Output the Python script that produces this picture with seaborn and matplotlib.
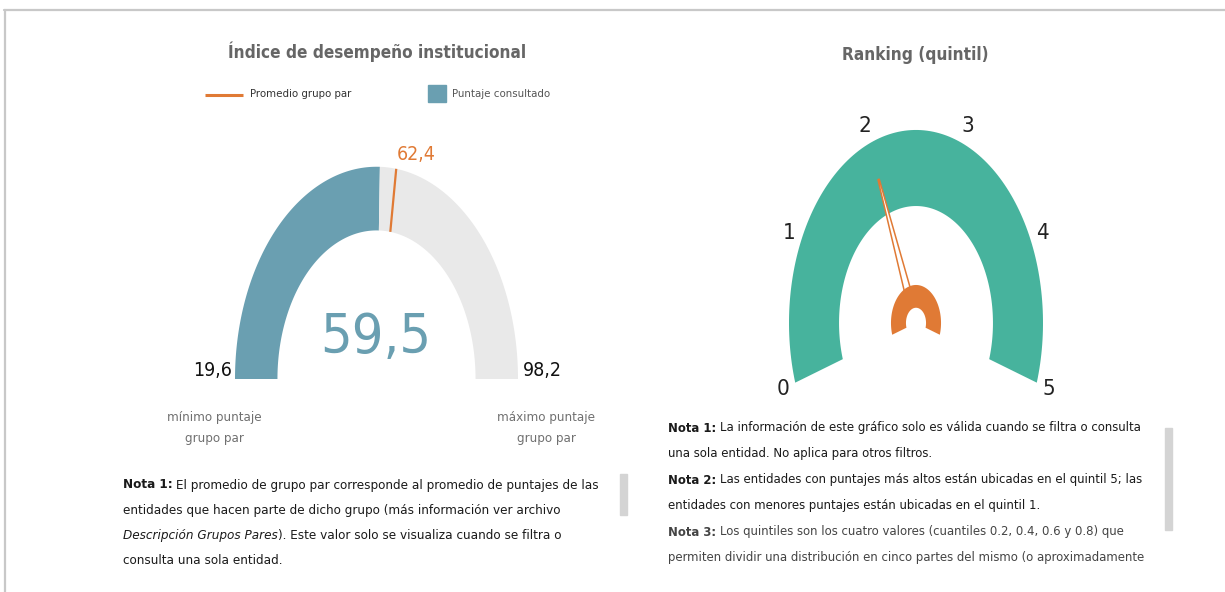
import numpy as np
import matplotlib.pyplot as plt
import seaborn as sns
from matplotlib.patches import Polygon, Rectangle

# values shown in the two gauges
puntaje_consultado = 59.5
promedio_grupo_par = 62.4
minimo_grupo_par = 19.6
maximo_grupo_par = 98.2
quintil_ticks = [0, 1, 2, 3, 4, 5]
quintil_entidad = 2

titulo_izq = 'Índice de desempeño institucional'
titulo_der = 'Ranking (quintil)'
leyenda = ['Promedio grupo par', 'Puntaje consultado']

notas_izq = [
    [('Nota 1:', 'b'), (' El promedio de grupo par corresponde al promedio de puntajes de las', 'n')],
    [('entidades que hacen parte de dicho grupo (más información ver archivo', 'n')],
    [('Descripción Grupos Pares', 'i'), ('). Este valor solo se visualiza cuando se filtra o', 'n')],
    [('consulta una sola entidad.', 'n')],
]
notas_der = [
    [('Nota 1:', 'b'), (' La información de este gráfico solo es válida cuando se filtra o consulta', 'n')],
    [('una sola entidad. No aplica para otros filtros.', 'n')],
    [('Nota 2:', 'b'), (' Las entidades con puntajes más altos están ubicadas en el quintil 5; las', 'n')],
    [('entidades con menores puntajes están ubicadas en el quintil 1.', 'n')],
    [('Nota 3:', 'b'), (' Los quintiles son los cuatro valores (cuantiles 0.2, 0.4, 0.6 y 0.8) que', 'n')],
    [('permiten dividir una distribución en cinco partes del mismo (o aproximadamente', 'n')],
]

TEAL = '#6A9FB1'
ARC_GREY = '#E9E9E9'
ORANGE = '#E07A35'
GREEN = '#47B39D'
TITLE_GREY = '#666666'

sns.set_theme(style='white')
plt.rcParams['font.family'] = ['DejaVu Sans']
plt.rcParams['font.stretch'] = 'condensed'

W, H = 1225, 592
fig = plt.figure(figsize=(W / 100, H / 100), dpi=100)


def band(r0, r1, t0, t1, stretch, n=150):
    t = np.linspace(t0, t1, n)
    outer = np.column_stack([r1 * np.cos(t), r1 * np.sin(t) * stretch])
    inner = np.column_stack([r0 * np.cos(t[::-1]), r0 * np.sin(t[::-1]) * stretch])
    return np.vstack([outer, inner])


def px_axes(cx, cy, unit, xlim, ylim):
    # one data unit = `unit` pixels, origin at pixel (cx, cy)
    x0, x1 = cx + xlim[0] * unit, cx + xlim[1] * unit
    ytop, ybot = cy - ylim[1] * unit, cy - ylim[0] * unit
    ax = fig.add_axes([x0 / W, 1 - ybot / H, (x1 - x0) / W, (ybot - ytop) / H])
    ax.set_xlim(xlim)
    ax.set_ylim(ylim)
    ax.axis('off')
    return ax


# ---- left gauge: indice de desempeno
sl = 1.5
axl = px_axes(376.5, 379, 141.5, (-1.5, 1.5), (-0.3, 1.7))


def ang(v):
    return np.pi * (1 - (v - minimo_grupo_par) / (maximo_grupo_par - minimo_grupo_par))


axl.add_patch(Polygon(band(0.7, 1.0, ang(minimo_grupo_par), ang(puntaje_consultado), sl),
                      closed=True, facecolor=TEAL, edgecolor='none'))
axl.add_patch(Polygon(band(0.7, 1.0, ang(puntaje_consultado), ang(maximo_grupo_par), sl),
                      closed=True, facecolor=ARC_GREY, edgecolor='none'))
a = ang(promedio_grupo_par)
axl.plot([0.7 * np.cos(a), 1.0 * np.cos(a)], [0.7 * np.sin(a) * sl, 1.0 * np.sin(a) * sl],
         color=ORANGE, lw=1.6, solid_capstyle='butt')

# ---- right gauge: quintil
sr = 1.52
axr = px_axes(916, 323, 127, (-1.3, 1.3), (-0.6, 1.75))


def qang(v):
    return np.radians(198 - v * 216 / 5)


axr.add_patch(Polygon(band(0.606, 1.0, qang(quintil_ticks[0]), qang(quintil_ticks[-1]), sr),
                      closed=True, facecolor=GREEN, edgecolor='none'))
axr.add_patch(Polygon(band(0.079, 0.197, qang(quintil_ticks[0]), qang(quintil_ticks[-1]), sr),
                      closed=True, facecolor=ORANGE, edgecolor='none', zorder=3))
q = qang(quintil_entidad)
d = np.array([np.cos(q), np.sin(q)])
p = np.array([-np.sin(q), np.cos(q)])
needle = np.array([0.15 * d + 0.026 * p, 0.80 * d + 0.005 * p, 0.80 * d - 0.005 * p, 0.15 * d - 0.026 * p])
needle[:, 1] *= sr
axr.add_patch(Polygon(needle, closed=True, facecolor='white', edgecolor=ORANGE, lw=1.1, zorder=2))
for t in quintil_ticks:
    ta = qang(t)
    axr.text(1.1 * np.cos(ta), 1.1 * np.sin(ta) * sr, str(t), ha='center', va='center',
             fontsize=16, color='#222222')

# ---- overlay in pixel units for frame, titles, legend and notes
ov = fig.add_axes([0, 0, 1, 1])
ov.set_xlim(0, W)
ov.set_ylim(H, 0)
ov.axis('off')
ov.patch.set_alpha(0)
renderer = fig.canvas.get_renderer()


def text_w(s, size, **kw):
    t = ov.text(0, 0, s, fontsize=size, **kw)
    w = t.get_window_extent(renderer=renderer).width
    t.remove()
    return w


def fit(s, target, **kw):
    # font size that makes `s` about `target` pixels wide
    return 10 * target / text_w(s, 10, **kw)


def style_kw(style):
    return {'fontweight': 'bold' if style == 'b' else 'normal',
            'fontstyle': 'italic' if style == 'i' else 'normal'}


def rich_line(x, y, parts, size, color, draw=True):
    x0 = x
    gap = text_w('x x', size) - text_w('xx', size)
    for s, style in parts:
        if s.startswith(' '):
            x += gap
            s = s.lstrip()
        if draw:
            ov.text(x, y, s, ha='left', va='center', fontsize=size, color=color, **style_kw(style))
        x += text_w(s, size, **style_kw(style))
    return x - x0


ov.plot([4, W], [10, 10], color='#C8C8C8', lw=1.6)
ov.plot([5, 5], [10, H], color='#C8C8C8', lw=1.6)

ts = fit(titulo_izq, 296, fontweight='bold')
ov.text(377, 52, titulo_izq, ha='center', va='center', fontsize=ts, fontweight='bold', color=TITLE_GREY)
ov.text(915, 55, titulo_der, ha='center', va='center', fontsize=ts, fontweight='bold', color=TITLE_GREY)

ls = fit(leyenda[0], 102)
ov.plot([205, 243], [95, 95], color=ORANGE, lw=2.2, solid_capstyle='butt')
ov.text(250, 94, leyenda[0], ha='left', va='center', fontsize=ls, color='#333333')
ov.add_patch(Rectangle((428, 85), 18, 17, color=TEAL))
ov.text(452, 94, leyenda[1], ha='left', va='center', fontsize=ls, color='#555555')

ov.text(397, 155, f'{promedio_grupo_par:.1f}'.replace('.', ','), ha='left', va='center',
        fontsize=14, color=ORANGE)
ov.text(376, 338, f'{puntaje_consultado:.1f}'.replace('.', ','), ha='center', va='center',
        fontsize=40, fontweight='light', color=TEAL)
ov.text(232, 370, f'{minimo_grupo_par:.1f}'.replace('.', ','), ha='right', va='center',
        fontsize=14, color='#111111')
ov.text(523, 370, f'{maximo_grupo_par:.1f}'.replace('.', ','), ha='left', va='center',
        fontsize=14, color='#111111')
ms = fit('mínimo puntaje', 94)
ov.text(214, 428, 'mínimo puntaje\ngrupo par', ha='center', va='center', fontsize=ms,
        color='#707070', linespacing=1.8)
ov.text(546, 428, 'máximo puntaje\ngrupo par', ha='center', va='center', fontsize=ms,
        color='#707070', linespacing=1.8)

ns_izq = 10 * 479 / rich_line(0, 0, notas_izq[0], 10, 'k', draw=False)
for i, line in enumerate(notas_izq):
    rich_line(123, 485 + i * 25.2, line, ns_izq, '#1A1A1A')
ns_der = 10 * 472 / rich_line(0, 0, notas_der[0], 10, 'k', draw=False)
for i, line in enumerate(notas_der):
    rich_line(668, 428 + i * 26, line, ns_der, '#1A1A1A' if i < 4 else '#444444')

ov.add_patch(Rectangle((620, 474), 7, 41, color='#D4D4D4'))
ov.add_patch(Rectangle((1165, 428), 7, 102, color='#D4D4D4'))

fig.savefig('out.png', dpi=100, facecolor='white')
